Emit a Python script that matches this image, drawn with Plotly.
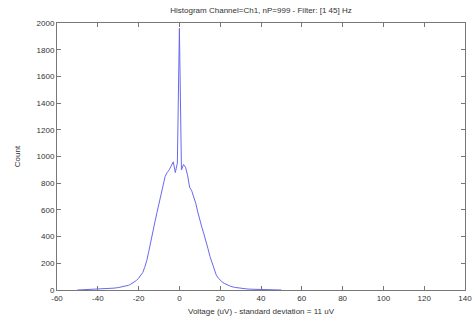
import plotly.graph_objects as go

voltage = [-50, -48, -46, -44, -42, -40, -38, -36, -34, -32, -30, -28, -26, -25, -24, -23, -22,
           -21, -20, -19, -18, -17, -16, -15, -14, -13, -12, -11, -10, -9, -8, -7, -6, -5,
           -4, -3, -2, -1, 0, 1, 2, 3, 4, 5, 6, 7, 8, 9, 10, 11, 12, 13, 14, 15, 16, 17,
           18, 19, 20, 21, 22, 23, 24, 25, 27, 29, 31, 33, 35, 37, 40, 43, 46, 50]
counts = [0, 1, 2, 3, 4, 5, 7, 9, 11, 14, 18, 24, 30, 35, 42, 50, 60,
          72, 88, 105, 130, 170, 220, 290, 370, 440, 510, 580, 650, 720, 790, 850, 880, 900,
          930, 960, 880, 950, 1960, 900, 940, 920, 860, 770, 745, 700, 650, 585, 520, 470, 420, 370, 310, 250, 200, 150,
          115, 90, 72, 60, 50, 42, 35, 28, 20, 15, 11, 8, 6, 5, 3, 2, 1, 0]

x_ticks = [-60, -40, -20, 0, 20, 40, 60, 80, 100, 120, 140]
y_ticks = [0, 200, 400, 600, 800, 1000, 1200, 1400, 1600, 1800, 2000]

FONT = dict(family="Liberation Sans", size=8, color="#333333")

fig = go.Figure()
fig.add_trace(go.Scatter(x=voltage, y=counts, mode="lines",
                         line=dict(color="#6868f0", width=1), showlegend=False))

axis_common = dict(showgrid=False, zeroline=False, showline=True, linecolor="#777777",
                   linewidth=1, mirror="ticks", ticks="inside", ticklen=4, automargin=False,
                   tickcolor="#777777", tickfont=FONT)

fig.update_layout(
    width=474, height=318,
    margin=dict(l=57, r=9, t=23, b=28),
    paper_bgcolor="white", plot_bgcolor="white",
    title=dict(text="Histogram Channel=Ch1, nP=999 - Filter: [1 45] Hz", xref="paper", x=0.5, xanchor="center",
               y=0.967, yanchor="middle", font=FONT),
    xaxis=dict(range=[-60, 140], tickvals=x_ticks, ticktext=[str(v) for v in x_ticks],
               title=dict(text="Voltage (uV) - standard deviation = 11 uV", standoff=6, font=FONT),
               **axis_common),
    yaxis=dict(range=[0, 2000], tickvals=y_ticks, ticktext=[str(v) for v in y_ticks],
               title=dict(text="Count", standoff=14, font=FONT), **axis_common),
)

fig.write_html("out.html", config={"displayModeBar": False},
               post_script="document.body.style.margin='0';")
